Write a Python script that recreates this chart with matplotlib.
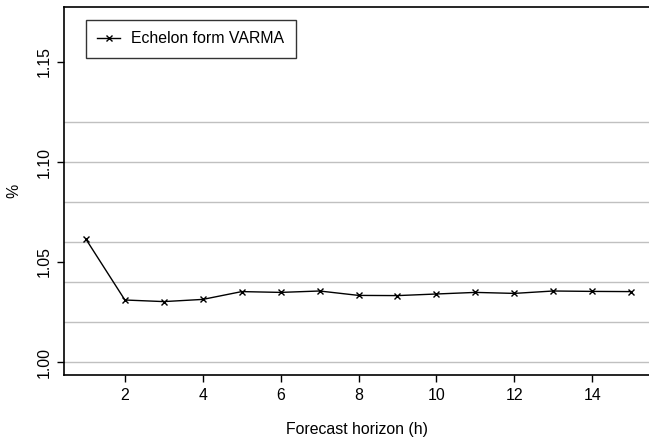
import numpy as np
import matplotlib
matplotlib.use("Agg")
from matplotlib import pyplot as plt

plt.rcParams['font.family'] = ['Liberation Sans', 'DejaVu Sans']

horizon = [1, 2, 3, 4, 5, 6, 7, 8, 9, 10, 11, 12, 13, 14, 15]
varma = [1.0614, 1.0310, 1.0302, 1.0313, 1.0352, 1.0348, 1.0355, 1.0333,
         1.0332, 1.0340, 1.0348, 1.0343, 1.0355, 1.0353, 1.0352]
grid_levels = [1.00, 1.02, 1.04, 1.06, 1.08, 1.10, 1.12]
y_ticks = [1.00, 1.05, 1.10, 1.15]
x_ticks = [2, 4, 6, 8, 10, 12, 14]

fs = 11.4
fig = plt.figure(figsize=(6.49, 4.37), dpi=100)
ax = fig.add_axes([64/649, 62/437, 1 - 64/649, 368/437])

for g in grid_levels:
    ax.axhline(g, color='#c0c0c0', lw=1.0, zorder=1)

ax.plot(horizon, varma, color='black', lw=1.0, marker='x', markersize=5,
        markeredgewidth=1.0, label='Echelon form VARMA', zorder=3)

ax.set_xlim(0.436, 15.46)
ax.set_ylim(0.9935, 1.1775)
ax.set_xticks(x_ticks)
ax.set_yticks(y_ticks)
ax.set_yticklabels(['%.2f' % t for t in y_ticks], rotation=90, va='center')
ax.tick_params(axis='both', labelsize=fs, length=5, width=1, direction='out')
ax.tick_params(axis='x', pad=4)
ax.tick_params(axis='y', pad=4)

ax.spines['right'].set_visible(False)
for s in ['left', 'top', 'bottom']:
    ax.spines[s].set_linewidth(1.2)

ax.set_xlabel('Forecast horizon (h)', fontsize=fs, labelpad=14)
ax.set_ylabel('%', fontsize=fs, labelpad=11)

leg = ax.legend(loc='upper left', bbox_to_anchor=(22/585, 1 - 13/368),
                fontsize=fs, frameon=True, fancybox=False, borderpad=0.72,
                handlelength=1.45, handletextpad=0.7, borderaxespad=0)
leg.get_frame().set_edgecolor('black')
leg.get_frame().set_linewidth(1.0)

fig.savefig('out.png', dpi=100)
